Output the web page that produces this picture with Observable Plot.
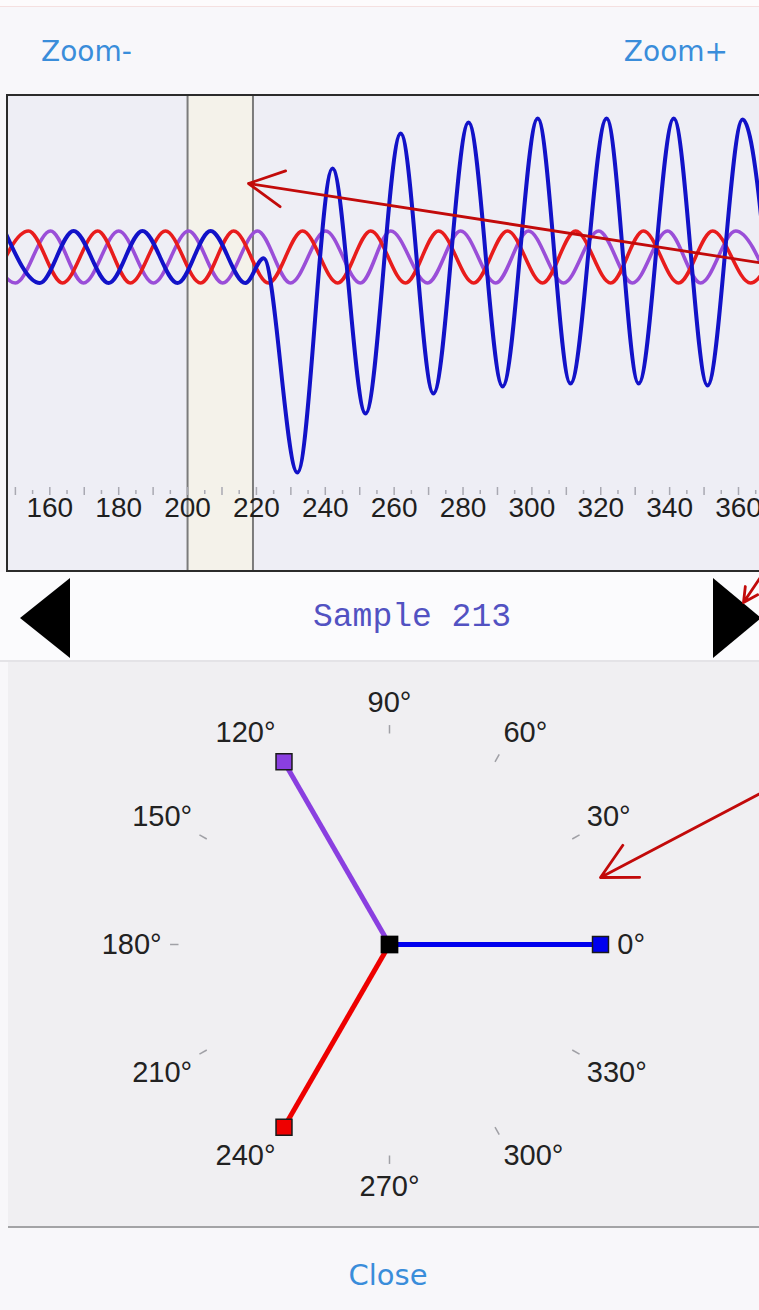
<!DOCTYPE html>
<html>
<head>
<meta charset="utf-8">
<script src="https://cdn.jsdelivr.net/npm/d3@7"></script>
<script src="https://cdn.jsdelivr.net/npm/@observablehq/plot@0.6"></script>
<style>
html, body { margin: 0; padding: 0; }
body { width: 759px; height: 1310px; overflow: hidden; position: relative; background: #f8f7fa; font-family: "DejaVu Sans", sans-serif; }
.abs { position: absolute; }
.btn { font-family: "DejaVu Sans", sans-serif; font-size: 28px; line-height: 28px; color: #3a8dda; white-space: nowrap; }
#sample { font-family: "Liberation Mono", monospace; font-size: 33px; line-height: 33px; color: #5252c2; white-space: nowrap; }
</style>
</head>
<body>
<div class="abs" style="left:0;top:0;width:759px;height:6px;background:#fdfbfc;border-bottom:1px solid #f5e0e0"></div>
<div class="abs btn" style="left:41px;top:38px;">Zoom-</div>
<div class="abs btn" style="right:31px;top:38px;">Zoom+</div>
<div id="wave" class="abs" style="left:6px;top:94px;width:760px;height:474px;border:2px solid #2b2b2b;overflow:hidden;background:#eeeef5"></div>
<div class="abs" style="left:0;top:572px;width:759px;height:88px;background:#fbfbfd;border-bottom:2px solid #e4e3e7"></div>
<div class="abs" style="left:20px;top:578px;width:0;height:0;border-right:50px solid #000;border-top:40px solid transparent;border-bottom:40px solid transparent"></div>
<div class="abs" style="left:713px;top:578px;width:0;height:0;border-left:48px solid #000;border-top:40px solid transparent;border-bottom:40px solid transparent"></div>
<div id="sample" class="abs" style="left:412px;top:601px;transform:translateX(-50%)"></div>
<div id="phasor" class="abs" style="left:8px;top:662px;width:751px;height:564px;background:#f0eff2"></div>
<div class="abs" style="left:8px;top:1226px;width:751px;height:2px;background:#a3a3a6"></div>
<div class="abs btn" style="left:388px;top:1261px;transform:translateX(-50%);font-size:29px;line-height:29px">Close</div>
<div id="overlay" class="abs" style="left:0;top:0;pointer-events:none"></div>

<script>
// ---------- data ----------
const sampleIndex = 213;
const windowStart = 200;
const windowEnd = 219;

const majorTicks = [160, 180, 200, 220, 240, 260, 280, 300, 320, 340, 360];
const minorTicks = [150, 155, 160, 165, 170, 175, 180, 185, 190, 195, 200, 205, 210, 215, 220, 225, 230, 235, 240, 245, 250, 255, 260, 265, 270, 275, 280, 285, 290, 295, 300, 305, 310, 315, 320, 325, 330, 335, 340, 345, 350, 355, 360, 365];

// waveform turning points (sample, value)
const blueSamples = [146.9, 157.1, 166.9, 177.1, 186.9, 197.1, 206.7, 216.8, 222.1, 231.9, 242.1, 251.7, 261.9, 271.4, 281.6, 291.5, 301.7, 311.2, 321.7, 331.0, 341.2, 351.0, 361.2, 371.0];
const blueValues  = [1.0, -1.0, 1.0, -1.0, 1.0, -1.0, 1.0, -1.0, -0.05, -8.29, 3.40, -6.02, 4.75, -5.25, 5.17, -4.98, 5.33, -4.87, 5.33, -4.87, 5.33, -4.94, 5.29, -4.90];

const redSamples = [143.7, 153.8, 163.7, 173.9, 183.4, 193.6, 203.8, 213.4, 223.5, 233.4, 243.6, 253.2, 263.3, 272.9, 283.1, 292.9, 303.1, 312.7, 322.9, 332.4, 342.6, 352.5, 363.5, 372.5];
const redValues  = [-1.0, 1.0, -1.0, 1.0, -1.0, 1.0, -1.0, 1.0, -1.0, 1.0, -1.0, 1.0, -1.0, 1.0, -1.0, 1.0, -1.0, 1.0, -1.0, 1.0, -1.0, 1.0, -1.0, 1.0];

const purpleSamples = [140.2, 150.0, 160.2, 169.8, 180.0, 190.1, 200.3, 210.2, 220.3, 229.9, 240.1, 250.2, 259.0, 269.7, 279.3, 289.5, 299.0, 309.2, 319.4, 329.2, 339.4, 349.0, 359.2, 369.0];
const purpleValues  = [1.0, -1.0, 1.0, -1.0, 1.0, -1.0, 1.0, -1.0, 1.0, -1.0, 1.0, -1.0, 1.0, -1.0, 1.0, -1.0, 1.0, -1.0, 1.0, -1.0, 1.0, -1.0, 1.0, -1.0];

// phasors
const phasorAngles = [0, 120, 240];
const phasorMagnitudes = [1, 1, 1];
const phasorColors = ["#0000ee", "#8a3fe0", "#ee0000"];
const degreeTicks = [0, 30, 60, 90, 120, 150, 180, 210, 240, 270, 300, 330];

// annotation arrows (page pixels): tail -> head
const arrowTailX = [790, 770, 790];
const arrowTailY = [267, 562, 777];
const arrowHeadX = [248, 743, 600];
const arrowHeadY = [183, 602, 877];

// ---------- build ----------
document.getElementById("sample").textContent = `Sample ${sampleIndex}`;

const rows = (s, v) => s.map((x, i) => ({s: x, v: v[i]}));

const wave = Plot.plot({
  width: 751, height: 474, margin: 0,
  style: {background: "transparent", overflow: "hidden"},
  x: {domain: [148.0, 366.1], axis: null},
  y: {domain: [-12.058, 6.173], axis: null},
  marks: [
    Plot.rect([{a: windowStart, b: windowEnd}], {x1: "a", x2: "b", fill: "#f4f2ea"}),
    Plot.ruleX([windowStart, windowEnd], {x: d => d, stroke: "#7b7b7b", strokeWidth: 2}),
    Plot.tickX(minorTicks.filter(t => t % 10 !== 0), {x: d => d, stroke: "#a9a9b2", strokeWidth: 1.5, insetTop: 394, insetBottom: 76}),
    Plot.tickX(minorTicks.filter(t => t % 10 === 0), {x: d => d, stroke: "#a9a9b2", strokeWidth: 1.5, insetTop: 391, insetBottom: 75}),
    Plot.text(majorTicks, {x: d => d, text: d => String(d), frameAnchor: "bottom", dy: -54, fontSize: 28, fill: "#1e1e1e", fontFamily: "Liberation Sans"}),
    Plot.line(rows(purpleSamples, purpleValues), {x: "s", y: "v", curve: "monotone-x", stroke: "#9a4ed8", strokeWidth: 3.6}),
    Plot.line(rows(redSamples, redValues), {x: "s", y: "v", curve: "monotone-x", stroke: "#e81c1c", strokeWidth: 3.6}),
    Plot.line(rows(blueSamples, blueValues), {x: "s", y: "v", curve: "monotone-x", stroke: "#1212c8", strokeWidth: 4})
  ]
});
document.getElementById("wave").append(wave);

const rad = a => a * Math.PI / 180;
const phasors = phasorAngles.map((a, i) => ({
  x: phasorMagnitudes[i] * Math.cos(rad(a)),
  y: phasorMagnitudes[i] * Math.sin(rad(a)),
  color: phasorColors[i]
}));
const labelR = 1.08;
const labelMarks = degreeTicks.map(a => {
  const c = Math.cos(rad(a)), s = Math.sin(rad(a));
  const textAnchor = c > 0.01 ? "start" : c < -0.01 ? "end" : "middle";
  const lineAnchor = s > 0.01 ? "bottom" : s < -0.01 ? "top" : "middle";
  const dy = s > 0.01 ? -5 : s < -0.01 ? 3 : 0;
  return Plot.text([a], {
    x: d => labelR * Math.cos(rad(d)), y: d => labelR * Math.sin(rad(d)),
    text: d => `${d}°`, textAnchor, lineAnchor, dy,
    fontSize: 29, fontFamily: "Liberation Sans", fill: "#222"
  });
});

const phasor = Plot.plot({
  width: 751, height: 564, margin: 0,
  style: {background: "transparent"},
  x: {domain: [-1.8057, 1.7536], axis: null},
  y: {domain: [-1.3365, 1.3365], axis: null},
  color: {type: "identity"},
  marks: [
    Plot.link(degreeTicks, {
      x1: a => 1.0 * Math.cos(rad(a)), y1: a => 1.0 * Math.sin(rad(a)),
      x2: a => 1.04 * Math.cos(rad(a)), y2: a => 1.04 * Math.sin(rad(a)),
      stroke: "#a0a0a6", strokeWidth: 1.5
    }),
    ...labelMarks,
    Plot.link(phasors, {x1: () => 0, y1: () => 0, x2: "x", y2: "y", stroke: "color", strokeWidth: 5}),
    Plot.dot(phasors, {x: "x", y: "y", symbol: "square", r: 9, fill: "color", stroke: "#1a1a1a", strokeWidth: 1.5}),
    Plot.dot([{x: 0, y: 0}], {x: "x", y: "y", symbol: "square", r: 10, fill: "#000"})
  ]
});
document.getElementById("phasor").append(phasor);

const annotations = arrowTailX.map((x, i) => ({x1: x, y1: arrowTailY[i], x2: arrowHeadX[i], y2: arrowHeadY[i]}));
const overlay = Plot.plot({
  width: 759, height: 1310, margin: 0,
  style: {background: "transparent"},
  x: {domain: [0, 759], range: [0, 759], axis: null},
  y: {domain: [0, 1310], range: [0, 1310], axis: null},
  marks: [
    Plot.arrow(annotations, {x1: "x1", y1: "y1", x2: "x2", y2: "y2", stroke: "#c20a0a", strokeWidth: 2.8, headLength: 21, headAngle: 55})
  ]
});
document.getElementById("overlay").append(overlay);
</script>
</body>
</html>
